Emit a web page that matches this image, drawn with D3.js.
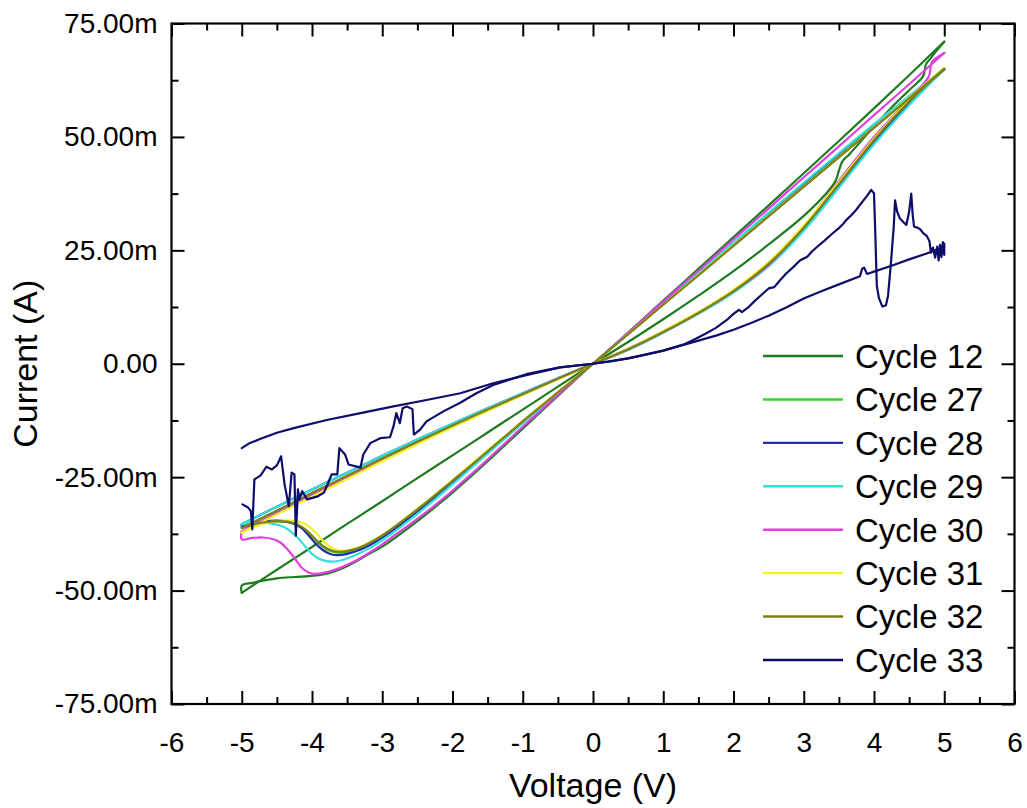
<!DOCTYPE html>
<html>
<head>
<meta charset="utf-8">
<script src="https://cdn.jsdelivr.net/npm/d3@7"></script>
<style>
  html, body { margin: 0; padding: 0; background: #fff; }
  svg { display: block; }
  text { font-family: "Liberation Sans", Arial, sans-serif; fill: #000; }
</style>
</head>
<body>
<svg id="chart" width="1027" height="808"></svg>
<script>
// ---- Tick values ----
const voltageMajor = [-6, -5, -4, -3, -2, -1, 0, 1, 2, 3, 4, 5, 6];
const voltageMinor = [-5.5, -4.5, -3.5, -2.5, -1.5, -0.5, 0.5, 1.5, 2.5, 3.5, 4.5, 5.5];
const currentMajor = [-75, -50, -25, 0, 25, 50, 75];          // mA
const currentMinor = [-62.5, -37.5, -12.5, 12.5, 37.5, 62.5]; // mA

// ---- Series names ----
const cycleNames = ["Cycle 12", "Cycle 27", "Cycle 28", "Cycle 29", "Cycle 30", "Cycle 31", "Cycle 32", "Cycle 33"];

// ---- I-V sweeps: each cycle is a list of branches of [voltage (V), current (mA)] ----
const cycle12 = [
  [[0,0],[0.5,4.8],[1,9.8],[1.5,15.0],[2,20.4],[2.5,26.3],[3,32.6],[3.3,37.2],[3.45,40.2],[3.5,42.5],[3.55,44.6],[3.65,46.2],[4,52.3],[4.25,56.5],[4.5,60.3],[4.7,63.4],[4.74,66.0],[4.8,67.2],[4.9,69.2],[5,71.0]],
  [[5,71.0],[4.5,63.6],[4,56.3],[3.5,49.1],[3,42.0],[2.5,34.9],[2,27.9],[1.5,20.9],[1,13.9],[0.5,6.9],[0,0]],
  [[0,0],[-0.5,-5.05],[-1,-10.1],[-1.5,-15.15],[-2,-20.2],[-2.5,-25.2],[-3,-30.3],[-3.5,-35.3],[-4,-40.4],[-4.5,-45.4],[-5,-50.5]],
  [[-5,-50.5],[-5,-48.9],[-4.85,-48.3],[-4.7,-47.8],[-4.5,-47.3],[-4.25,-47.0],[-4.05,-46.8],[-3.9,-46.6],[-3.75,-46.1],[-3.6,-45.3],[-3.4,-43.8],[-3.2,-42.0],[-3.0,-40.3],[-2.75,-37.6],[-2.5,-34.7],[-2.25,-31.6],[-2.0,-28.4],[-1.75,-25.0],[-1.5,-21.5],[-1.25,-17.9],[-1.0,-14.3],[-0.75,-10.7],[-0.5,-7.1],[-0.25,-3.5],[0,0]]
];

const cycle27 = [
  [[0,0],[0.5,3.2],[1,7.0],[1.5,11.2],[2,15.9],[2.5,21.9],[3,29.8],[3.5,39.4],[4,49.1],[4.5,57.6],[5,64.8]],
  [[5,64.8],[4.5,58.7],[4,52.3],[3.5,45.8],[3,39.3],[2.5,32.8],[2,26.2],[1.5,19.7],[1,13.1],[0.5,6.5],[0,0]],
  [[0,0],[-0.5,-3.3],[-1,-6.7],[-1.5,-10.1],[-2,-13.6],[-2.5,-17.2],[-3,-20.9],[-3.5,-24.7],[-4,-28.5],[-4.5,-32.4],[-5,-36.2]],
  [[-5,-36.2],[-4.85,-35.6],[-4.7,-35.1],[-4.5,-34.8],[-4.35,-34.9],[-4.25,-35.3],[-4.15,-36.0],[-4.05,-37.3],[-3.95,-38.9],[-3.85,-40.3],[-3.75,-41.2],[-3.65,-41.6],[-3.5,-41.5],[-3.3,-40.6],[-3.1,-39.0],[-2.9,-37.0],[-2.75,-35.3],[-2.5,-32.3],[-2.25,-29.2],[-2.0,-26.0],[-1.75,-22.7],[-1.5,-19.4],[-1.25,-16.1],[-1.0,-12.8],[-0.75,-9.6],[-0.5,-6.4],[-0.25,-3.2],[0,0]]
];

const cycle28 = [
  [[0,0],[0.5,3.1],[1,6.9],[1.5,11.1],[2,15.8],[2.5,21.7],[3,29.6],[3.5,39.2],[4,48.8],[4.5,57.3],[5,65.0]],
  [[5,65.0],[4.5,58.9],[4,52.6],[3.5,46.2],[3,39.7],[2.5,33.1],[2,26.5],[1.5,19.9],[1,13.2],[0.5,6.6],[0,0]],
  [[0,0],[-0.5,-3.2],[-1,-6.5],[-1.5,-9.8],[-2,-13.2],[-2.5,-16.7],[-3,-20.3],[-3.5,-24.0],[-4,-27.7],[-4.5,-31.5],[-5,-35.4]],
  [[-5,-35.4],[-5,-35.8],[-4.85,-35.2],[-4.7,-34.8],[-4.5,-34.6],[-4.35,-34.8],[-4.25,-35.3],[-4.15,-36.2],[-4.05,-37.8],[-3.95,-39.6],[-3.85,-41.0],[-3.75,-41.9],[-3.65,-42.2],[-3.5,-41.9],[-3.3,-40.9],[-3.1,-39.3],[-2.9,-37.3],[-2.75,-35.6],[-2.5,-32.6],[-2.25,-29.5],[-2.0,-26.3],[-1.75,-23.0],[-1.5,-19.6],[-1.25,-16.3],[-1.0,-13.0],[-0.75,-9.7],[-0.5,-6.5],[-0.25,-3.2],[0,0]]
];

const cycle29 = [
  [[0,0],[0.5,3.1],[1,6.9],[1.5,11.0],[2,15.7],[2.5,21.5],[3,29.3],[3.5,38.8],[4,48.4],[4.5,57.0],[5,65.0]],
  [[5,65.0],[4.5,59.0],[4,52.8],[3.5,46.4],[3,39.9],[2.5,33.3],[2,26.7],[1.5,20.0],[1,13.3],[0.5,6.7],[0,0]],
  [[0,0],[-0.5,-3.2],[-1,-6.5],[-1.5,-9.8],[-2,-13.2],[-2.5,-16.7],[-3,-20.3],[-3.5,-24.0],[-4,-27.7],[-4.5,-31.5],[-5,-35.4]],
  [[-5,-35.4],[-4.85,-35.1],[-4.7,-35.0],[-4.55,-35.3],[-4.4,-36.0],[-4.3,-37.0],[-4.2,-38.4],[-4.1,-40.2],[-4.0,-41.9],[-3.9,-43.0],[-3.8,-43.5],[-3.7,-43.6],[-3.55,-43.2],[-3.4,-42.3],[-3.2,-40.8],[-3.0,-38.9],[-2.75,-36.1],[-2.5,-33.1],[-2.25,-29.9],[-2.0,-26.6],[-1.75,-23.2],[-1.5,-19.8],[-1.25,-16.4],[-1.0,-13.1],[-0.75,-9.8],[-0.5,-6.5],[-0.25,-3.3],[0,0]]
];

const cycle30 = [
  [[0,0],[0.5,3.3],[1,7.1],[1.5,11.3],[2,16.0],[2.5,21.8],[3,30.2],[3.5,40.3],[4,50.0],[4.5,58.3],[4.78,63.3],[4.82,66.4],[4.88,67.3],[5,68.5]],
  [[5,68.5],[4.5,61.6],[4,54.8],[3.5,47.9],[3,41.1],[2.5,34.2],[2,27.4],[1.5,20.5],[1,13.7],[0.5,6.8],[0,0]],
  [[0,0],[-0.5,-3.3],[-1,-6.7],[-1.5,-10.2],[-2,-13.8],[-2.5,-17.4],[-3,-21.2],[-3.5,-25.0],[-4,-28.9],[-4.5,-32.9],[-5,-36.9]],
  [[-5,-36.9],[-5,-38.7],[-4.85,-38.4],[-4.7,-38.3],[-4.55,-38.7],[-4.45,-39.4],[-4.35,-40.9],[-4.25,-42.8],[-4.15,-44.9],[-4.05,-46.0],[-3.95,-46.3],[-3.8,-46.0],[-3.6,-45.0],[-3.4,-43.6],[-3.2,-41.8],[-3.0,-39.8],[-2.75,-37.0],[-2.5,-34.2],[-2.25,-31.2],[-2.0,-28.0],[-1.75,-24.6],[-1.5,-21.1],[-1.25,-17.5],[-1.0,-13.9],[-0.75,-10.4],[-0.5,-6.9],[-0.25,-3.4],[0,0]]
];

const cycle31 = [
  [[0,0],[0.5,3.3],[1,7.2],[1.5,11.4],[2,16.3],[2.5,22.4],[3,30.5],[3.5,40.0],[4,49.6],[4.5,58.0],[5,65.2]],
  [[5,65.2],[4.5,58.6],[4,52.1],[3.5,45.6],[3,39.1],[2.5,32.6],[2,26.1],[1.5,19.6],[1,13.0],[0.5,6.5],[0,0]],
  [[0,0],[-0.5,-3.4],[-1,-6.9],[-1.5,-10.4],[-2,-14.0],[-2.5,-17.7],[-3,-21.5],[-3.5,-25.4],[-4,-29.3],[-4.5,-33.2],[-5,-37.2]],
  [[-5,-37.2],[-4.85,-36.1],[-4.7,-35.3],[-4.5,-34.7],[-4.3,-34.6],[-4.15,-35.0],[-4.05,-35.8],[-3.95,-37.2],[-3.85,-38.9],[-3.75,-40.3],[-3.65,-41.0],[-3.55,-41.2],[-3.4,-40.8],[-3.2,-39.5],[-3.0,-37.8],[-2.75,-35.0],[-2.5,-32.0],[-2.25,-28.9],[-2.0,-25.7],[-1.75,-22.4],[-1.5,-19.1],[-1.25,-15.9],[-1.0,-12.6],[-0.75,-9.4],[-0.5,-6.3],[-0.25,-3.1],[0,0]]
];

const cycle32 = [
  [[0,0],[0.5,3.2],[1,7.0],[1.5,11.2],[2,16.0],[2.5,22.0],[3,30.0],[3.5,39.6],[4,49.3],[4.5,57.8],[5,65.0]],
  [[5,65.0],[4.5,58.5],[4,52.0],[3.5,45.5],[3,39.0],[2.5,32.5],[2,26.0],[1.5,19.5],[1,13.0],[0.5,6.5],[0,0]],
  [[0,0],[-0.5,-3.3],[-1,-6.7],[-1.5,-10.1],[-2,-13.6],[-2.5,-17.2],[-3,-20.9],[-3.5,-24.7],[-4,-28.5],[-4.5,-32.4],[-5,-36.2]],
  [[-5,-36.2],[-4.85,-35.5],[-4.7,-35.0],[-4.5,-34.7],[-4.35,-34.8],[-4.25,-35.2],[-4.15,-35.9],[-4.05,-37.1],[-3.95,-38.7],[-3.85,-40.1],[-3.75,-41.0],[-3.65,-41.4],[-3.5,-41.3],[-3.3,-40.4],[-3.1,-38.8],[-2.9,-36.8],[-2.75,-35.1],[-2.5,-32.1],[-2.25,-29.0],[-2.0,-25.8],[-1.75,-22.6],[-1.5,-19.3],[-1.25,-16.0],[-1.0,-12.7],[-0.75,-9.5],[-0.5,-6.3],[-0.25,-3.2],[0,0]]
];

const cycle33 = [
  [[0,0],[0.5,1.2],[1.0,2.9],[1.3,4.3],[1.45,5.4],[1.6,6.6],[1.75,7.9],[1.9,9.6],[2.0,11.0],[2.08,11.9],[2.12,11.4],[2.2,12.3],[2.3,13.8],[2.4,15.2],[2.5,16.6],[2.58,16.9],[2.65,18.2],[2.75,19.9],[2.85,21.3],[2.95,22.8],[3.05,23.6],[3.12,24.8],[3.2,25.9],[3.3,27.2],[3.4,28.6],[3.5,29.9],[3.56,30.8],[3.6,31.6],[3.68,32.8],[3.75,34.0],[3.82,35.4],[3.9,37.0],[3.96,38.3],[4.0,37.6],[4.02,28.0],[4.04,17.2],[4.07,14.5],[4.12,12.6],[4.17,12.9],[4.2,15.0],[4.24,22.0],[4.28,30.0],[4.3,36.0],[4.33,33.5],[4.37,32.0],[4.42,31.2],[4.46,30.6],[4.5,33.5],[4.53,37.5],[4.55,33.0],[4.57,30.2],[4.62,30.0],[4.66,29.6],[4.7,28.8],[4.75,28.2],[4.79,27.0],[4.81,24.5],[4.84,25.6],[4.87,23.4],[4.9,25.8],[4.92,22.8],[4.94,26.2],[4.96,23.5],[4.98,26.8],[5.0,24.0],[5.0,26.5],[5.0,25.8]],
  [[5.0,25.8],[4.75,24.3],[4.5,23.0],[4.25,21.6],[4.0,20.3],[3.9,19.8],[3.86,21.2],[3.83,20.9],[3.8,19.3],[3.5,17.5],[3.25,16.0],[3.0,14.4],[2.75,12.4],[2.5,10.6],[2.25,9.0],[2.0,7.5],[1.75,6.2],[1.5,5.1],[1.25,4.0],[1.0,2.9],[0.75,2.0],[0.5,1.2],[0.25,0.5],[0,0]],
  [[0,0],[-0.47,-0.8],[-0.95,-2.5],[-1.42,-4.3],[-1.89,-6.5],[-2.37,-8.0],[-2.84,-9.4],[-3.31,-10.9],[-3.79,-12.4],[-4.26,-14.2],[-4.5,-15.2],[-4.74,-16.6],[-4.9,-17.6],[-5.0,-18.6]],
  [[-4.99,-31.0],[-4.91,-31.7],[-4.87,-32.5],[-4.85,-36.5],[-4.82,-25.5],[-4.73,-24.6],[-4.65,-22.7],[-4.57,-23.3],[-4.50,-22.4],[-4.46,-21.1],[-4.44,-20.4],[-4.39,-26.6],[-4.33,-31.4],[-4.29,-24.0],[-4.25,-24.4],[-4.23,-37.9],[-4.20,-27.7],[-4.18,-29.9],[-4.14,-28.1],[-4.07,-29.9],[-3.93,-29.3],[-3.83,-28.4],[-3.79,-27.0],[-3.72,-24.4],[-3.64,-24.4],[-3.61,-18.6],[-3.53,-20.0],[-3.48,-22.2],[-3.31,-22.9],[-3.27,-20.0],[-3.17,-17.5],[-3.03,-16.4],[-2.89,-16.2],[-2.84,-13.8],[-2.80,-10.9],[-2.75,-13.1],[-2.71,-9.8],[-2.65,-9.4],[-2.57,-10.0],[-2.55,-15.6],[-2.46,-14.5],[-2.37,-12.7],[-2.13,-10.5],[-1.89,-8.6],[-1.66,-6.5],[-1.42,-4.7],[-0.95,-2.3],[-0.47,-0.8],[0,0]]
];

const cycles = [cycle12, cycle27, cycle28, cycle29, cycle30, cycle31, cycle32, cycle33];
const cycleColors = ["#1e7b1e", "#33d633", "#1f2fa8", "#33e0e0", "#e040e0", "#f2f21e", "#7f7f1a", "#0d0d6b"];

// ---- Layout ----
const W = 1027, H = 808;
const plot = { left: 171.5, right: 1014.5, top: 23.5, bottom: 704 };

const svg = d3.select("#chart");
const x = d3.scaleLinear().domain([-6, 6]).range([plot.left, plot.right]);
const y = d3.scaleLinear().domain([-75, 75]).range([plot.bottom, plot.top]);

// Plain hyphen-minus for negative labels, "m" suffix for milliamps
const fmtVoltage = d => String(d);
const fmtCurrent = d => d === 0 ? "0.00" : d.toFixed(2) + "m";
const fontStack = '"Liberation Sans", Arial, sans-serif';

function styleAxis(g) {
  g.attr("font-family", fontStack).attr("font-size", 28);
  g.select(".domain").remove();
  g.selectAll(".tick line").attr("stroke", "#000").attr("stroke-width", 2);
  g.selectAll(".tick text").attr("fill", "#000");
}

// ---- Curves ----
const smoothLine = d3.line()
  .x(d => x(d[0])).y(d => y(d[1]))
  .curve(d3.curveCatmullRom.alpha(0.5));
const rawLine = d3.line()
  .x(d => x(d[0])).y(d => y(d[1]));

const curves = svg.append("g").attr("class", "curves");
cycles.forEach((branches, i) => {
  const gen = cycleNames[i] === "Cycle 33" ? rawLine : smoothLine;
  curves.append("g")
    .attr("class", "cycle")
    .selectAll("path")
    .data(branches)
    .join("path")
    .attr("d", gen)
    .attr("fill", "none")
    .attr("stroke", cycleColors[i])
    .attr("stroke-width", 2.2)
    .attr("stroke-linejoin", "round")
    .attr("stroke-linecap", "round");
});

// ---- Axes (ticks point inward on all four sides) ----
svg.append("g").attr("transform", `translate(0,${plot.bottom})`)
  .call(d3.axisBottom(x).tickValues(voltageMajor).tickSize(-13).tickPadding(28).tickFormat(fmtVoltage))
  .call(styleAxis);
svg.append("g").attr("transform", `translate(0,${plot.bottom})`)
  .call(d3.axisBottom(x).tickValues(voltageMinor).tickSize(-7).tickFormat(""))
  .call(styleAxis);
svg.append("g").attr("transform", `translate(0,${plot.top})`)
  .call(d3.axisTop(x).tickValues(voltageMajor).tickSize(-13).tickFormat(""))
  .call(styleAxis);
svg.append("g").attr("transform", `translate(0,${plot.top})`)
  .call(d3.axisTop(x).tickValues(voltageMinor).tickSize(-7).tickFormat(""))
  .call(styleAxis);

svg.append("g").attr("transform", `translate(${plot.left},0)`)
  .call(d3.axisLeft(y).tickValues(currentMajor).tickSize(-13).tickPadding(14).tickFormat(fmtCurrent))
  .call(styleAxis);
svg.append("g").attr("transform", `translate(${plot.left},0)`)
  .call(d3.axisLeft(y).tickValues(currentMinor).tickSize(-7).tickFormat(""))
  .call(styleAxis);
svg.append("g").attr("transform", `translate(${plot.right},0)`)
  .call(d3.axisRight(y).tickValues(currentMajor).tickSize(-13).tickFormat(""))
  .call(styleAxis);
svg.append("g").attr("transform", `translate(${plot.right},0)`)
  .call(d3.axisRight(y).tickValues(currentMinor).tickSize(-7).tickFormat(""))
  .call(styleAxis);

// Frame
svg.append("rect")
  .attr("x", plot.left).attr("y", plot.top)
  .attr("width", plot.right - plot.left).attr("height", plot.bottom - plot.top)
  .attr("fill", "none").attr("stroke", "#000").attr("stroke-width", 2.2);

// ---- Axis titles ----
svg.append("text")
  .attr("x", x(0)).attr("y", 797)
  .attr("text-anchor", "middle")
  .attr("font-size", 34)
  .text("Voltage (V)");

svg.append("text")
  .attr("transform", `translate(37,${y(0)}) rotate(-90)`)
  .attr("text-anchor", "middle")
  .attr("font-size", 34)
  .text("Current (A)");

// ---- Legend ----
const legend = svg.append("g").attr("class", "legend");
const rowY = d3.scaleLinear().domain([0, 7]).range([356, 660]);
cycleNames.forEach((name, i) => {
  const yy = rowY(i);
  legend.append("line")
    .attr("x1", 763).attr("x2", 843)
    .attr("y1", yy).attr("y2", yy)
    .attr("stroke", cycleColors[i]).attr("stroke-width", 2.4);
  legend.append("text")
    .attr("x", 855).attr("y", yy)
    .attr("dy", "0.36em")
    .attr("font-size", 33)
    .text(name);
});
</script>
</body>
</html>
